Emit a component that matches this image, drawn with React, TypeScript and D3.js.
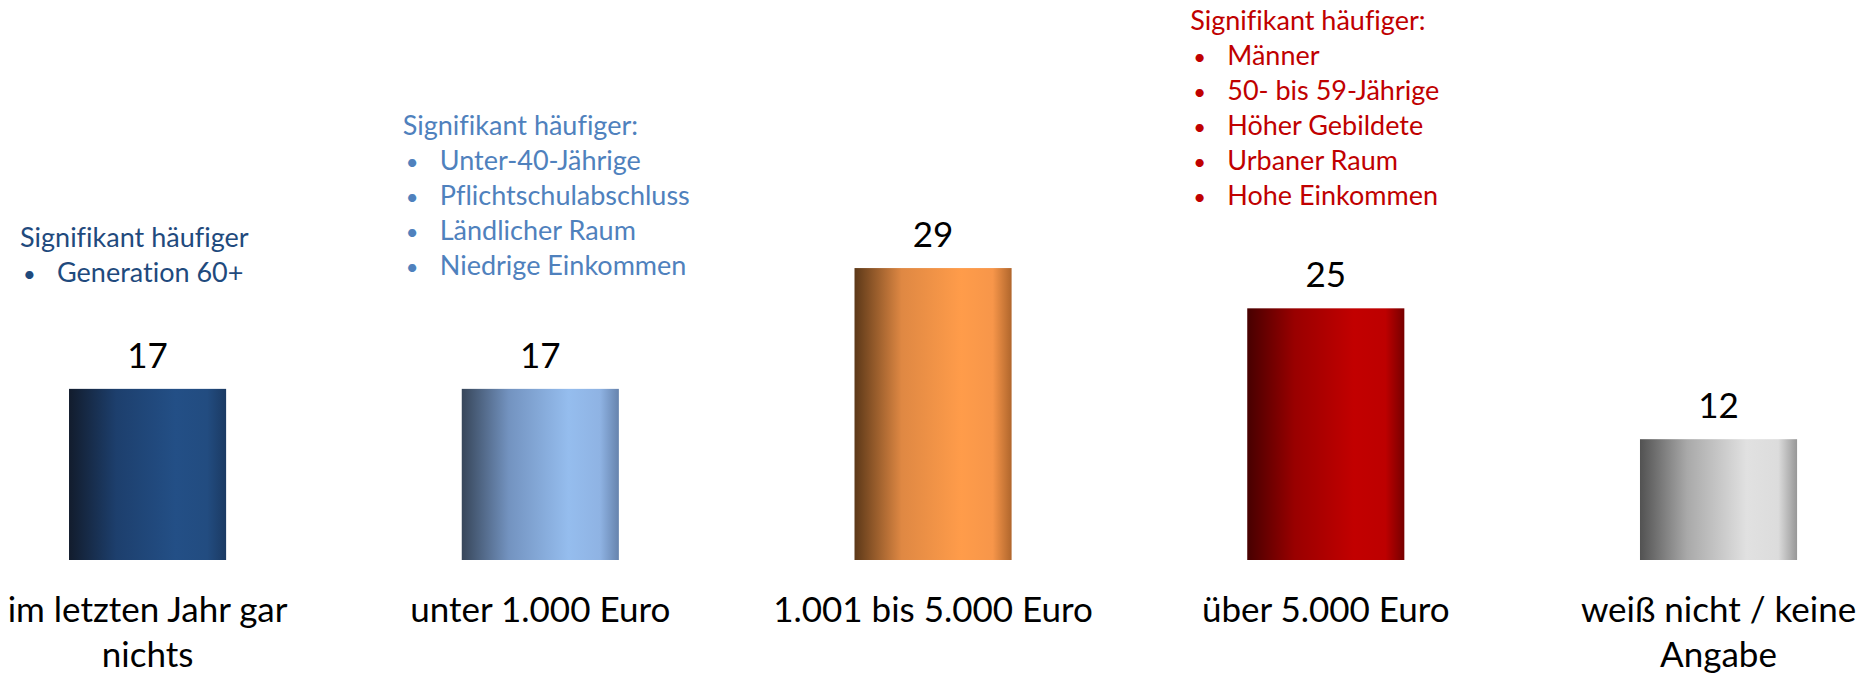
import React from "react";
import * as d3 from "d3";

const categories: string[][] = [
  ["im letzten Jahr gar", "nichts"],
  ["unter 1.000 Euro"],
  ["1.001 bis 5.000 Euro"],
  ["über 5.000 Euro"],
  ["weiß nicht / keine", "Angabe"],
];
const categoryKeys = ["gar_nichts", "unter_1000", "1001_5000", "ueber_5000", "weiss_nicht"];
const values = [17, 17, 29, 25, 12];

// gradient stops per bar: dark edge, base, light, right edge
const barPalettes: string[][] = [
  ["#121c2d", "#1d3f6d", "#234f86", "#224c80", "#1b3a63"],
  ["#37465a", "#7393c0", "#95bdee", "#8fb3e3", "#6683ad"],
  ["#5c3818", "#df8843", "#ff9c4a", "#f7964a", "#b0662c"],
  ["#470000", "#990000", "#c20000", "#bd0000", "#760000"],
  ["#525252", "#a9a9a9", "#e1e1e1", "#dcdcdc", "#979797"],
];

const annotationCats = ["gar_nichts", "unter_1000", "ueber_5000"];
const annotationTitles = ["Signifikant häufiger", "Signifikant häufiger:", "Signifikant häufiger:"];
const annotationItems: string[][] = [
  ["Generation 60+"],
  ["Unter-40-Jährige", "Pflichtschulabschluss", "Ländlicher Raum", "Niedrige Einkommen"],
  ["Männer", "50- bis 59-Jährige", "Höher Gebildete", "Urbaner Raum", "Hohe Einkommen"],
];
const annotationColors = ["#1f4a7d", "#4f81bd", "#c00000"];
// layout only: left offset from bar start and first baseline
const annotationDx = [-49, -59, -57];
const annotationY = [247, 135, 30];

const W = 1873;
const H = 673;
const FONT = "Lato, 'Open Sans', sans-serif";

export default function App() {
  const x = d3
    .scaleBand<string>()
    .domain(categoryKeys)
    .range([-48.8, 1914.9])
    .paddingInner(0.6)
    .paddingOuter(0.3);
  const y = d3.scaleLinear().domain([0, 30]).range([560, 258]);
  const bw = x.bandwidth();

  return (
    <svg
      width={W}
      height={H}
      style={{ position: "absolute", left: 0, top: 0, background: "#fff", fontVariantLigatures: "none" }}
      fontFamily={FONT}
    >
      <defs>
        {barPalettes.map((p, i) => (
          <linearGradient key={i} id={`g${i}`} x1="0" x2="1" y1="0" y2="0">
            <stop offset="0" stopColor={p[0]} />
            <stop offset="0.3" stopColor={p[1]} />
            <stop offset="0.68" stopColor={p[2]} />
            <stop offset="0.88" stopColor={p[3]} />
            <stop offset="1" stopColor={p[4]} />
          </linearGradient>
        ))}
      </defs>
      {categoryKeys.map((k, i) => {
        const x0 = x(k)!;
        const cx = x0 + bw / 2;
        return (
          <g key={k}>
            <rect x={x0} y={y(values[i])} width={bw} height={y(0) - y(values[i])} fill={`url(#g${i})`} />
            <text x={cx} y={y(values[i]) - 21} textAnchor="middle" fontSize={35} fill="#000">
              {values[i]}
            </text>
            {categories[i].map((line, j) => (
              <text key={j} x={cx} y={622 + j * 45} textAnchor="middle" fontSize={35} fill="#000">
                {line}
              </text>
            ))}
          </g>
        );
      })}
      {annotationCats.map((k, i) => {
        const left = x(k)! + annotationDx[i];
        const col = annotationColors[i];
        return (
          <g key={k} fill={col} fontSize={27}>
            <text x={left} y={annotationY[i]}>{annotationTitles[i]}</text>
            {annotationItems[i].map((item, j) => (
              <g key={j}>
                <text x={left + 3} y={annotationY[i] + (j + 1) * 35} fontSize={22}>•</text>
                <text x={left + 37} y={annotationY[i] + (j + 1) * 35}>{item}</text>
              </g>
            ))}
          </g>
        );
      })}
    </svg>
  );
}
